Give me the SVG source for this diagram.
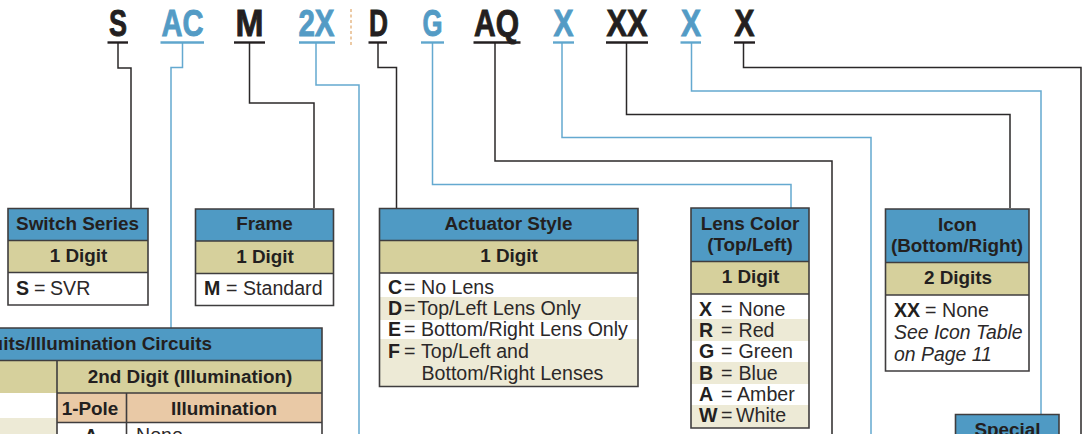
<svg xmlns="http://www.w3.org/2000/svg" width="1084" height="434" viewBox="0 0 1084 434">
<style>
text{font-family:"Liberation Sans",Arial,sans-serif;fill:#231f20}
.code{font-size:37.500px;font-weight:700;text-anchor:middle;stroke:#231f20;stroke-width:.9}
.code.bl{fill:#539bc5;stroke:#539bc5}
.h{font-size:18.900px;font-weight:700;text-anchor:middle}
.t{font-size:19.600px;fill:#2b2829}
.i{font-size:19.400px;font-style:italic;fill:#2b2829}
.b{font-size:19.600px;font-weight:700}
.hd{fill:#4f9ac4}.dg{fill:#d6d09c}.or{fill:#e9c9a6}.tan{fill:#edead6}.wh{fill:#fff}
.bx{fill:none;stroke:#3f3d3e;stroke-width:1.6}
.k{fill:none;stroke:#2b2829;stroke-width:1.5}
.b2{fill:none;stroke:#64a9d0;stroke-width:1.5}
.uk{stroke:#231f20;stroke-width:2.4}
.ub{stroke:#5fa6cd;stroke-width:2.4}
</style>
<rect width="1084" height="434" fill="#fff"/>
<g id="connectors">
<path class="k" d="M118 43V68H131V208"/>
<path class="b2" d="M182.500 43V67.500H171V328"/>
<path class="k" d="M249.500 43V103H314V208"/>
<path class="b2" d="M316 43V85H359V434"/>
<path class="k" d="M378 43V67.500H396.500V208"/>
<path class="b2" d="M432.500 43V184.500H791V208"/>
<path class="k" d="M495 43V161H832V434"/>
<path class="b2" d="M562 43V137.500H871V434"/>
<path class="k" d="M626.500 43V114.500H1010V208"/>
<path class="b2" d="M691.500 43V91H1041V414"/>
<path class="k" d="M743.500 43V67.500H1081V434"/>
<path d="M351 9V46" fill="none" stroke="#e8bd8f" stroke-width="1.6" stroke-dasharray="3 2.500"/>
</g>
<g id="code-s"><text class="code" x="118" y="36" textLength="18" lengthAdjust="spacingAndGlyphs">S</text><path class="uk" d="M107.500 42.500H128"/></g>
<g id="code-ac"><text class="code bl" x="182.500" y="36" textLength="42" lengthAdjust="spacingAndGlyphs">AC</text><path class="ub" d="M160.500 42.500H204"/></g>
<g id="code-m"><text class="code" x="249.500" y="36" textLength="28" lengthAdjust="spacingAndGlyphs">M</text><path class="uk" d="M234 42.500H265"/></g>
<g id="code-2x"><text class="code bl" x="316.500" y="36" textLength="36" lengthAdjust="spacingAndGlyphs">2X</text><path class="ub" d="M299 42.500H335"/></g>
<g id="code-d"><text class="code" x="378.500" y="36" textLength="19" lengthAdjust="spacingAndGlyphs">D</text><path class="uk" d="M368.500 42.500H387"/></g>
<g id="code-g"><text class="code bl" x="432.500" y="36" textLength="20" lengthAdjust="spacingAndGlyphs">G</text><path class="ub" d="M421 42.500H444"/></g>
<g id="code-aq"><text class="code" x="496.500" y="36" textLength="45" lengthAdjust="spacingAndGlyphs">AQ</text><path class="uk" d="M473.500 42.500H520.500"/></g>
<g id="code-x1"><text class="code bl" x="563.500" y="36" textLength="20" lengthAdjust="spacingAndGlyphs">X</text><path class="ub" d="M553 42.500H574"/></g>
<g id="code-xx"><text class="code" x="627" y="36" textLength="41" lengthAdjust="spacingAndGlyphs">XX</text><path class="uk" d="M606 42.500H648"/></g>
<g id="code-x2"><text class="code bl" x="691" y="36" textLength="20" lengthAdjust="spacingAndGlyphs">X</text><path class="ub" d="M680.500 42.500H701"/></g>
<g id="code-x3"><text class="code" x="744.500" y="36" textLength="20" lengthAdjust="spacingAndGlyphs">X</text><path class="uk" d="M734 42.500H755"/></g>

<g id="switch-series">
<rect class="hd" x="8" y="208.500" width="140" height="32"/><rect class="dg" x="8" y="240.500" width="140" height="32"/><rect class="wh" x="8" y="272.500" width="140" height="32.500"/>
<path class="bx" d="M8 208.500H148V305H8ZM8 240.500H148M8 272.500H148"/>
<text class="h" x="77.500" y="230">Switch Series</text><text class="h" x="78.500" y="262">1 Digit</text>
<text class="b" x="16" y="295">S</text><text class="t" x="34" y="295">=</text><text class="t" x="50" y="295">SVR</text>
</g>
<g id="frame">
<rect class="hd" x="195.500" y="209" width="138" height="32"/><rect class="dg" x="195.500" y="241" width="138" height="32.500"/><rect class="wh" x="195.500" y="273.500" width="138" height="32"/>
<path class="bx" d="M195.500 209H333.500V305.500H195.500ZM195.500 241H333.500M195.500 273.500H333.500"/>
<text class="h" x="264.500" y="230">Frame</text><text class="h" x="265" y="263">1 Digit</text>
<text class="b" x="204" y="295">M</text><text class="t" x="226" y="295">=</text><text class="t" x="243" y="295">Standard</text>
</g>
<g id="actuator-style">
<rect class="hd" x="379.500" y="208.500" width="258.500" height="32"/><rect class="dg" x="379.500" y="240.500" width="258.500" height="32.500"/><rect class="wh" x="379.500" y="273" width="258.500" height="24"/><rect class="tan" x="379.500" y="297" width="258.500" height="23"/><rect class="tan" x="379.500" y="339" width="258.500" height="47.500"/>
<path class="bx" d="M379.500 208.500H638V386.500H379.500ZM379.500 240.500H638M379.500 273H638"/>
<text class="h" x="508.500" y="230">Actuator Style</text><text class="h" x="509" y="262">1 Digit</text>
<text class="b" x="388" y="294">C</text><text class="t" x="404" y="294">=</text><text class="t" x="421" y="294">No Lens</text>
<text class="b" x="388" y="315">D</text><text class="t" x="404" y="315">=</text><text class="t" x="417.500" y="315">Top/Left Lens Only</text>
<text class="b" x="388" y="336">E</text><text class="t" x="404" y="336">=</text><text class="t" x="421" y="336">Bottom/Right Lens Only</text>
<text class="b" x="388" y="358">F</text><text class="t" x="404" y="358">=</text><text class="t" x="421" y="358">Top/Left and</text>
<text class="t" x="421.500" y="380">Bottom/Right Lenses</text>
</g>
<g id="lens-color">
<rect class="hd" x="691" y="208" width="118" height="53.500"/><rect class="dg" x="691" y="261.500" width="118" height="32.500"/><rect class="wh" x="691" y="294" width="118" height="25"/><rect class="tan" x="691" y="319" width="118" height="22"/><rect class="tan" x="691" y="362" width="118" height="22"/><rect class="tan" x="691" y="405" width="118" height="23"/>
<path class="bx" d="M691 208H809V428H691ZM691 261.500H809M691 294H809"/>
<text class="h" x="750" y="230">Lens Color</text><text class="h" x="750" y="251">(Top/Left)</text><text class="h" x="750.500" y="283">1 Digit</text>
<text class="b" x="699" y="316">X</text><text class="t" x="721" y="316">=</text><text class="t" x="738.500" y="316">None</text>
<text class="b" x="699" y="337">R</text><text class="t" x="721" y="337">=</text><text class="t" x="738.500" y="337">Red</text>
<text class="b" x="699" y="358">G</text><text class="t" x="721" y="358">=</text><text class="t" x="738.500" y="358">Green</text>
<text class="b" x="699" y="380">B</text><text class="t" x="721" y="380">=</text><text class="t" x="738.500" y="380">Blue</text>
<text class="b" x="699" y="401">A</text><text class="t" x="721" y="401">=</text><text class="t" x="737" y="401">Amber</text>
<text class="b" x="699" y="422">W</text><text class="t" x="721" y="422">=</text><text class="t" x="736" y="422">White</text>
</g>
<g id="icon">
<rect class="hd" x="885.500" y="209" width="143.500" height="53.500"/><rect class="dg" x="885.500" y="262.500" width="143.500" height="32.500"/><rect class="wh" x="885.500" y="295" width="143.500" height="76"/>
<path class="bx" d="M885.500 209H1029V371H885.500ZM885.500 262.500H1029M885.500 295H1029"/>
<text class="h" x="957.500" y="231">Icon</text><text class="h" x="957" y="252">(Bottom/Right)</text><text class="h" x="958" y="284">2 Digits</text>
<text class="b" x="894" y="317">XX</text><text class="t" x="925" y="317">=</text><text class="t" x="942" y="317">None</text>
<text class="i" x="894" y="339">See Icon Table</text>
<text class="i" x="894" y="361">on Page 11</text>
</g>
<g id="special">
<rect class="hd" x="955.500" y="414.500" width="103.500" height="22"/>
<path class="bx" d="M955.500 436V414.500H1059V436"/>
<text class="h" x="1007.500" y="436">Special</text>
</g>
<g id="illumination">
<rect class="hd" x="-2" y="328" width="324" height="32.500"/><rect class="dg" x="-2" y="360.500" width="324" height="32.500"/><rect class="or" x="57" y="393" width="265" height="29.500"/><rect class="tan" x="-2" y="418" width="59" height="18"/>
<path class="bx" d="M-2 328H322V436M-2 360.500H322M57 360.500V436M57 393H322M126.500 393V436M57 422.500H322"/>
<text class="h" x="212" y="350" style="text-anchor:end">uits/Illumination Circuits</text>
<text class="h" x="190" y="383">2nd Digit (Illumination)</text>
<text class="h" x="90" y="415">1-Pole</text><text class="h" x="224" y="415">Illumination</text>
<text class="h" x="91" y="442">A</text><text class="t" x="136" y="442">None</text>
</g>
</svg>
